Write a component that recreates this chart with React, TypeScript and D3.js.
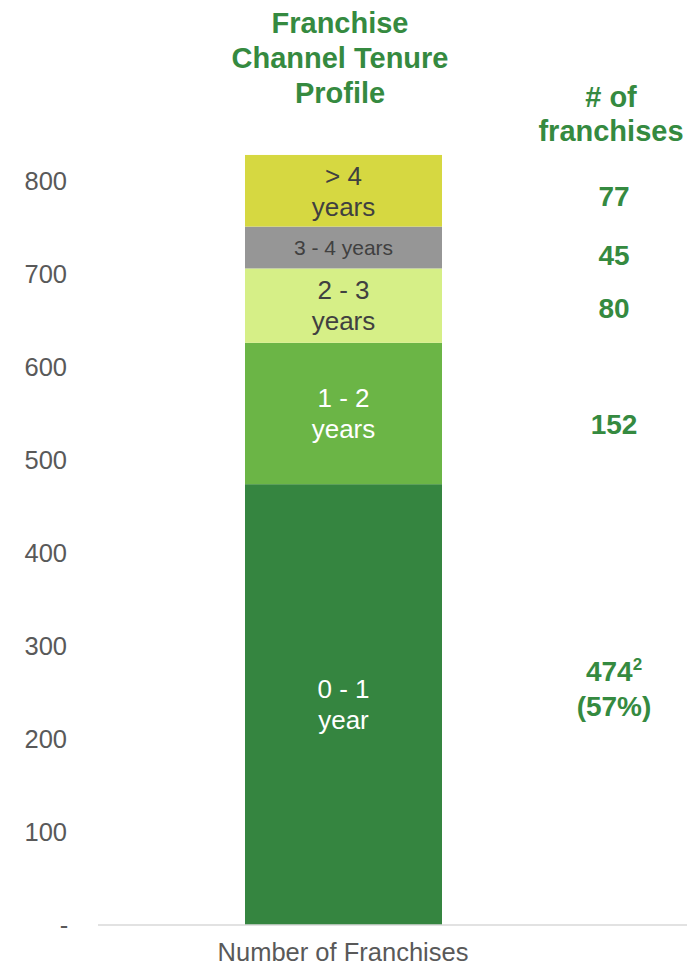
import React from 'react';
import * as d3 from 'd3';

// tenure buckets, bottom to top
const segments = ['0 - 1 year', '1 - 2 years', '2 - 3 years', '3 - 4 years', '> 4 years'];
const segmentLines = [['0 - 1', 'year'], ['1 - 2', 'years'], ['2 - 3', 'years'], ['3 - 4 years'], ['> 4', 'years']];
const counts = [474, 152, 80, 45, 77];
const colors = ['#358540', '#6bb546', '#d6ef87', '#969696', '#d6d841'];
const labelColors = ['#ffffff', '#ffffff', '#404040', '#404040', '#404040'];
const labelSizes = [26, 26, 26, 21, 26];
const rightLabels = ['474', '152', '80', '45', '77'];
const rightY = [671, 424, 308, 255, 196];
const yTicks = [0, 100, 200, 300, 400, 500, 600, 700, 800];
const category = 'Number of Franchises';

const W = 687;
const H = 967;
const GREEN = '#358a40';
const FONT = 'Liberation Sans, Arial, sans-serif';

export default function App() {
  const y = d3.scaleLinear().domain([0, 800]).range([925, 181]);
  const xBar = 245;
  const bw = 197;

  const stacked = d3.stack<number[]>().keys(segments.map((_, i) => String(i))).value((d, k) => d[+k])([counts]);

  return (
    <svg width={W} height={H} style={{ position: 'absolute', left: 0, top: 0 }} fontFamily={FONT}>
      <rect width={W} height={H} fill="#fff" />
      {/* title */}
      {['Franchise', 'Channel Tenure', 'Profile'].map((t, i) => (
        <text key={t} x={340} y={33 + i * 35} textAnchor="middle" fontSize={29} fontWeight="bold" fill={GREEN}>{t}</text>
      ))}
      {['# of', 'franchises'].map((t, i) => (
        <text key={t} x={611} y={107 + i * 34} textAnchor="middle" fontSize={29} fontWeight="bold" fill={GREEN}>{t}</text>
      ))}
      {/* y ticks */}
      {yTicks.map(t => (
        <text key={t} x={t === 0 ? 64 : 67} y={y(t) + 9} textAnchor={t === 0 ? 'middle' : 'end'} fontSize={25.5} fill="#595959">
          {t === 0 ? '-' : t}
        </text>
      ))}
      {/* bars */}
      {stacked.map((s, i) => {
        const d = s[0];
        const y0 = y(d[0]);
        const y1 = y(d[1]);
        const cy = (y0 + y1) / 2;
        const lines = segmentLines[i];
        const lh = 31;
        return (
          <g key={i}>
            <rect x={xBar} y={y1} width={bw} height={y0 - y1} fill={colors[i]} />
            {lines.map((l, j) => (
              <text key={j} x={xBar + bw / 2} y={cy + (j - (lines.length - 1) / 2) * lh + labelSizes[i] * 0.36}
                textAnchor="middle" fontSize={labelSizes[i]} fill={labelColors[i]}>{l}</text>
            ))}
          </g>
        );
      })}
      {/* axis line */}
      <line x1={98} x2={W} y1={925} y2={925} stroke="#d9d9d9" strokeWidth={1.5} />
      <text x={343} y={961} textAnchor="middle" fontSize={25.5} fill="#595959">{category}</text>
      {/* right side values */}
      {rightLabels.map((l, i) => (
        <text key={i} x={614} y={rightY[i] + 10} textAnchor="middle" fontSize={28} fontWeight="bold" fill={GREEN}>
          {l}{i === 0 ? <tspan fontSize={17} dy={-11}>2</tspan> : null}
        </text>
      ))}
      <text x={614} y={716} textAnchor="middle" fontSize={28} fontWeight="bold" fill={GREEN}>(57%)</text>
    </svg>
  );
}
